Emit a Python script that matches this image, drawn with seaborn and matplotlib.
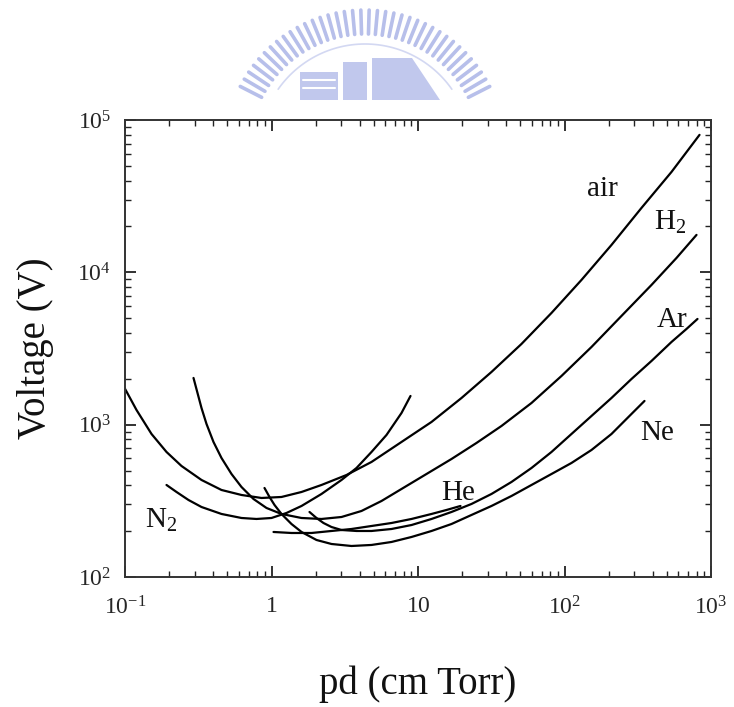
import numpy as np
import pandas as pd
import matplotlib
matplotlib.use("Agg")
import matplotlib.pyplot as plt
import matplotlib.ticker as mticker
from matplotlib.lines import Line2D
from matplotlib.patches import Rectangle, Polygon
import seaborn as sns

# ---- data (pd in cm Torr, breakdown voltage in V) ----
air_pd = [0.0993, 0.1198, 0.1517, 0.1920, 0.2430, 0.3328, 0.4557, 0.6240, 0.8546, 1.170,
          1.603, 2.194, 3.251, 4.815, 7.716, 12.37, 19.82, 31.74, 50.87, 81.53,
          130.6, 209.3, 335.4, 537.6, 834.8]
air_v = [1742, 1249, 868.8, 661.9, 535.6, 433.5, 372.6, 345.5, 330.2, 335.2,
         361.5, 401.9, 467.3, 569.1, 769.9, 1042, 1497, 2218, 3388, 5414,
         8915, 15130, 26480, 45620, 79860]

n2_pd = [0.1920, 0.2247, 0.2713, 0.3328, 0.4557, 0.6240, 0.7900, 1.0, 1.266, 1.603,
         2.194, 3.005, 3.804, 4.815, 6.095, 7.716, 8.888]
n2_v = [401.9, 361.5, 320.3, 288.1, 259.3, 244.0, 240.4, 244.0, 263.2, 292.6,
        350.8, 433.5, 519.6, 661.9, 855.8, 1193, 1543]

h2_pd = [0.2935, 0.3125, 0.3328, 0.3600, 0.4018, 0.4557, 0.5333, 0.6240, 0.7535, 0.9244,
         1.170, 1.603, 2.194, 3.005, 4.115, 5.635, 7.716, 11.43, 16.93, 25.07,
         37.15, 59.53, 95.39, 152.9, 244.9, 392.6, 581.6, 796.2]
h2_v = [2026, 1615, 1287, 1011, 769.9, 604.3, 474.5, 389.8, 325.2, 283.9,
        259.3, 244.0, 240.4, 247.7, 271.3, 315.5, 378.3, 474.5, 595.2, 758.3,
        980.6, 1388, 2088, 3237, 5173, 8267, 12433, 17606]

ar_pd = [1.817, 2.028, 2.264, 2.568, 3.005, 3.804, 4.815, 6.594, 9.030, 12.37,
         16.93, 23.18, 31.74, 43.47, 59.53, 81.53, 111.6, 152.9, 209.3, 286.6,
         392.6, 537.6, 680.5, 808.8]
ar_v = [267.2, 244.0, 226.2, 212.9, 203.5, 200.5, 200.5, 206.6, 219.4, 240.4,
        267.2, 301.6, 350.8, 420.6, 519.6, 661.9, 868.8, 1141, 1497, 1995,
        2620, 3491, 4250, 4943]

ne_pd = [0.8958, 0.9691, 1.0483, 1.170, 1.369, 1.603, 2.028, 2.568, 3.516, 4.815,
         6.594, 9.030, 12.37, 16.93, 23.18, 31.74, 43.47, 59.53, 81.53, 111.6,
         152.9, 209.3, 286.6, 351.6]
ne_v = [384.0, 335.2, 297.1, 259.3, 222.8, 197.5, 175.0, 164.7, 159.8, 162.3,
        169.8, 183.1, 200.5, 222.8, 255.4, 292.6, 340.3, 401.9, 474.5, 560.5,
        682.2, 868.8, 1176, 1431]

he_pd = [1.032, 1.369, 1.875, 2.568, 3.516, 4.815, 6.594, 9.030, 12.37, 15.65, 19.50]
he_v = [197.5, 194.5, 194.5, 200.5, 206.6, 216.2, 226.2, 240.4, 259.3, 275.4, 292.6]

gases = ["air", "N2", "H2", "Ar", "Ne", "He"]
gas_labels = ["air", r"N$_2$", r"H$_2$", "Ar", "Ne", "He"]

x_ticks = [0.1, 1, 10, 100, 1000]
x_ticklabels = [r"$10^{-1}$", r"$1$", r"$10$", r"$10^{2}$", r"$10^{3}$"]
y_ticks = [100, 1000, 10000, 100000]
y_ticklabels = [r"$10^{2}$", r"$10^{3}$", r"$10^{4}$", r"$10^{5}$"]

# ---- long-form table ----
series = {"air": (air_pd, air_v), "N2": (n2_pd, n2_v), "H2": (h2_pd, h2_v),
          "Ar": (ar_pd, ar_v), "Ne": (ne_pd, ne_v), "He": (he_pd, he_v)}
rows = []
for g, (xs, ys) in series.items():
    for i, (a, b) in enumerate(zip(xs, ys)):
        rows.append({"gas": g, "order": i, "pd": a, "V": b})
df = pd.DataFrame(rows)

# ---- style ----
sns.set_theme(style="ticks")
plt.rcParams["font.family"] = ["Liberation Serif", "DejaVu Serif"]
plt.rcParams["mathtext.fontset"] = "custom"
plt.rcParams["mathtext.rm"] = "Liberation Serif"
plt.rcParams["mathtext.it"] = "Liberation Serif:italic"
plt.rcParams["mathtext.bf"] = "Liberation Serif:bold"

W, H = 734, 707
fig = plt.figure(figsize=(W / 100, H / 100), dpi=100)

# ---- faint university watermark above the plot (decorative) ----
wm = "#b7bfea"
cx, cy = 365, 150
for ang in np.linspace(np.radians(27), np.radians(153), 38):
    x0, y0 = cx + 116 * np.cos(ang), cy - 116 * np.sin(ang)
    x1, y1 = cx + 140 * np.cos(ang), cy - 140 * np.sin(ang)
    if max(y0, y1) < 101:
        fig.add_artist(Line2D([x0 / W, x1 / W], [1 - y0 / H, 1 - y1 / H],
                              transform=fig.transFigure, color=wm, lw=2.6,
                              solid_capstyle="round", zorder=0))
arc_t = np.linspace(np.radians(35), np.radians(145), 80)
ax_arc = cx + 106 * np.cos(arc_t)
ay_arc = cy - 106 * np.sin(arc_t)
keep = ay_arc < 100
fig.add_artist(Line2D(ax_arc[keep] / W, 1 - ay_arc[keep] / H, transform=fig.transFigure,
                      color="#d3d8f2", lw=1.2, zorder=0))
for (bx, by, bw, bh) in [(300, 72, 38, 28), (343, 62, 24, 38), (372, 58, 40, 42)]:
    fig.add_artist(Rectangle((bx / W, 1 - (by + bh) / H), bw / W, bh / H,
                             transform=fig.transFigure, facecolor=wm, edgecolor="none",
                             alpha=0.85, zorder=0))
fig.add_artist(Polygon([(412 / W, 1 - 100 / H), (412 / W, 1 - 58 / H), (440 / W, 1 - 100 / H)],
                       closed=True, transform=fig.transFigure, facecolor=wm,
                       edgecolor="none", alpha=0.85, zorder=0))
for yy in (80, 88):
    fig.add_artist(Line2D([303 / W, 335 / W], [1 - yy / H, 1 - yy / H],
                          transform=fig.transFigure, color="white", lw=1.5, zorder=0))

# ---- main axes ----
ax = fig.add_axes([125 / W, 1 - 577 / H, (711 - 125) / W, (577 - 120) / H])

sns.lineplot(data=df, x="pd", y="V", hue="gas", units="gas", estimator=None,
             sort=False, palette=["black"] * len(gases), legend=False,
             linewidth=1.6, ax=ax)
for ln in ax.get_lines():
    ln.set_solid_joinstyle("round")
    ln.set_solid_capstyle("round")

ax.set_xscale("log")
ax.set_yscale("log")
ax.set_xlim(0.1, 1000)
ax.set_ylim(100, 100000)

ax.xaxis.set_major_locator(mticker.FixedLocator(x_ticks))
ax.xaxis.set_major_formatter(mticker.FixedFormatter(x_ticklabels))
ax.yaxis.set_major_locator(mticker.FixedLocator(y_ticks))
ax.yaxis.set_major_formatter(mticker.FixedFormatter(y_ticklabels))
ax.xaxis.set_minor_locator(mticker.LogLocator(base=10, subs=np.arange(2, 10)))
ax.yaxis.set_minor_locator(mticker.LogLocator(base=10, subs=np.arange(2, 10)))
ax.xaxis.set_minor_formatter(mticker.NullFormatter())
ax.yaxis.set_minor_formatter(mticker.NullFormatter())

ax.tick_params(which="both", direction="in", top=True, right=True, color="#222222")
ax.tick_params(which="major", length=8, width=1.3)
ax.tick_params(which="minor", length=4, width=1.0)
ax.tick_params(axis="x", which="major", labelsize=17, pad=14)
ax.tick_params(axis="y", which="major", labelsize=17, pad=10)
for s in ax.spines.values():
    s.set_linewidth(1.4)
    s.set_color("#333333")

ax.set_xlabel("pd (cm Torr)", fontsize=28, labelpad=33, color="#111111")
ax.set_ylabel("Voltage (V)", fontsize=28, labelpad=17, color="#111111")

# curve labels (left, baseline)
label_pos = {"air": (143.5, 31800), "H2": (411, 18970), "Ar": (424.6, 4380),
             "Ne": (330, 794), "He": (14.5, 320), "N2": (0.136, 210)}
for g, lab in zip(gases, gas_labels):
    x0, y0 = label_pos[g]
    ax.text(x0, y0, lab, fontsize=21, ha="left", va="baseline", color="#111111")

fig.savefig("out.png", dpi=100)
